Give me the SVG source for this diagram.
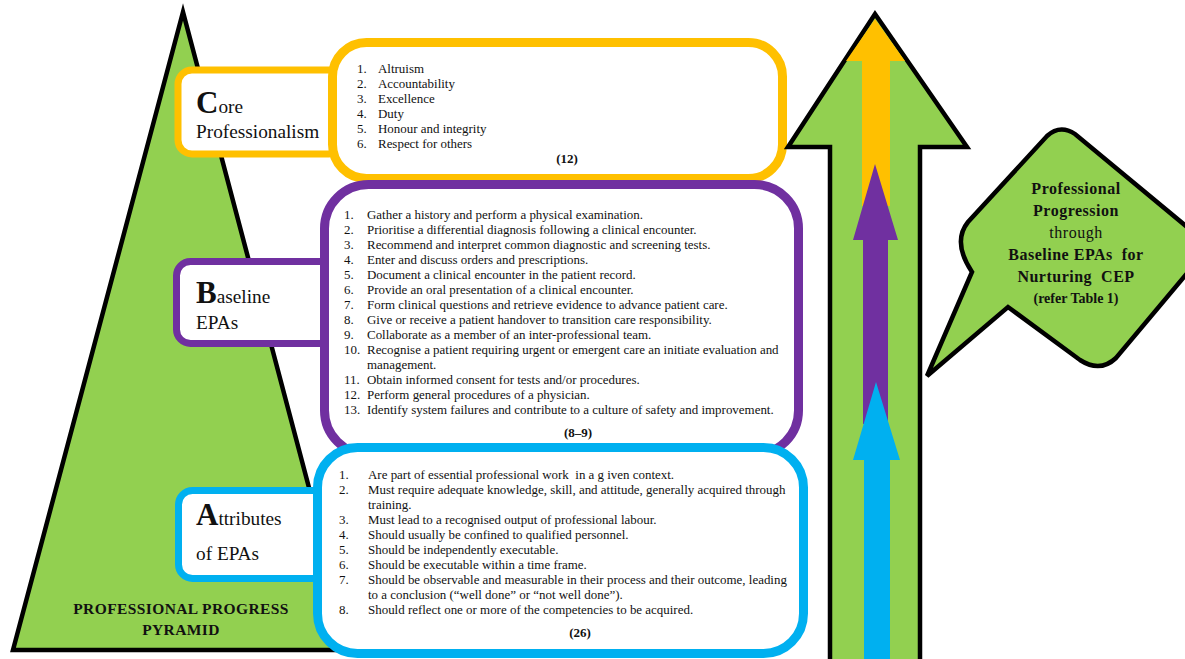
<svg xmlns="http://www.w3.org/2000/svg" width="1185" height="659" viewBox="0 0 1185 659">
<style>
text{fill:#111;}
.li{font-size:12.95px;white-space:pre;}
.ref{font-size:13px;font-weight:bold;text-anchor:middle;}
.big{font-size:31px;font-weight:bold;}
.lab{font-size:19.3px;}
.bub{font-size:16px;font-weight:bold;text-anchor:middle;letter-spacing:0.5px;}
.box{fill:#fff;}
.o{stroke:#FFC000;}
.p{stroke:#7030A0;}
.b{stroke:#00B0F0;}
.blk{stroke:#000;stroke-width:4.5;stroke-linejoin:miter;}
</style>
<rect width="1185" height="659" fill="#fff"/>
<g id="pyramid" font-family="'Liberation Serif', serif">
<polygon points="183,12 13,650 352,650" fill="#92D050" class="blk"/>
<text x="181" y="614" font-size="15.5" font-weight="bold" text-anchor="middle" letter-spacing="0.4">PROFESSIONAL PROGRESS</text>
<text x="181" y="635" font-size="15.5" font-weight="bold" text-anchor="middle" letter-spacing="0.4">PYRAMID</text>
</g>
<g id="core" font-family="'Liberation Serif', serif">
<rect x="178" y="70" width="165" height="84" rx="14" class="box o" stroke-width="7"/>
<rect x="332.5" y="42.5" width="450" height="136" rx="34" class="box o" stroke-width="9"/>
<text x="196" y="113"><tspan class="big">C</tspan><tspan class="lab">ore</tspan></text>
<text x="196" y="138" class="lab">Professionalism</text>
<text class="li" x="357" y="73">1.</text><text class="li" x="378" y="73">Altruism</text>
<text class="li" x="357" y="88">2.</text><text class="li" x="378" y="88">Accountability</text>
<text class="li" x="357" y="103">3.</text><text class="li" x="378" y="103">Excellence</text>
<text class="li" x="357" y="118">4.</text><text class="li" x="378" y="118">Duty</text>
<text class="li" x="357" y="133">5.</text><text class="li" x="378" y="133">Honour and integrity</text>
<text class="li" x="357" y="148">6.</text><text class="li" x="378" y="148">Respect for others</text>
<text class="ref" x="567" y="163">(12)</text>
</g>
<g id="baseline" font-family="'Liberation Serif', serif">
<rect x="176.5" y="261.5" width="160" height="82" rx="14" class="box p" stroke-width="7"/>
<rect x="324.5" y="184.5" width="474" height="270" rx="44" class="box p" stroke-width="9"/>
<text x="196" y="303"><tspan class="big">B</tspan><tspan class="lab">aseline</tspan></text>
<text x="196" y="329" class="lab">EPAs</text>
<text class="li" x="344" y="219">1.</text><text class="li" x="367" y="219">Gather a history and perform a physical examination.</text>
<text class="li" x="344" y="234">2.</text><text class="li" x="367" y="234">Prioritise a differential diagnosis following a clinical encounter.</text>
<text class="li" x="344" y="249">3.</text><text class="li" x="367" y="249">Recommend and interpret common diagnostic and screening tests.</text>
<text class="li" x="344" y="264">4.</text><text class="li" x="367" y="264">Enter and discuss orders and prescriptions.</text>
<text class="li" x="344" y="279">5.</text><text class="li" x="367" y="279">Document a clinical encounter in the patient record.</text>
<text class="li" x="344" y="294">6.</text><text class="li" x="367" y="294">Provide an oral presentation of a clinical encounter.</text>
<text class="li" x="344" y="309">7.</text><text class="li" x="367" y="309">Form clinical questions and retrieve evidence to advance patient care.</text>
<text class="li" x="344" y="324">8.</text><text class="li" x="367" y="324">Give or receive a patient handover to transition care responsibility.</text>
<text class="li" x="344" y="339">9.</text><text class="li" x="367" y="339">Collaborate as a member of an inter-professional team.</text>
<text class="li" x="344" y="354">10.</text><text class="li" x="367" y="354">Recognise a patient requiring urgent or emergent care an initiate evaluation and</text>
<text class="li" x="367" y="369">management.</text>
<text class="li" x="344" y="384">11.</text><text class="li" x="367" y="384">Obtain informed consent for tests and/or procedures.</text>
<text class="li" x="344" y="399">12.</text><text class="li" x="367" y="399">Perform general procedures of a physician.</text>
<text class="li" x="344" y="414">13.</text><text class="li" x="367" y="414">Identify system failures and contribute to a culture of safety and improvement.</text>
<text class="ref" x="578" y="437">(8–9)</text>
</g>
<g id="attributes" font-family="'Liberation Serif', serif">
<rect x="178.5" y="490.5" width="150" height="88" rx="14" class="box b" stroke-width="7"/>
<rect x="317.5" y="447.5" width="486" height="206" rx="40" class="box b" stroke-width="9"/>
<text x="196" y="525"><tspan class="big">A</tspan><tspan class="lab">ttributes</tspan></text>
<text x="196" y="560" class="lab">of EPAs</text>
<text class="li" x="339" y="479">1.</text><text class="li" x="368" y="479">Are part of essential professional work  in a g iven context.</text>
<text class="li" x="339" y="494">2.</text><text class="li" x="368" y="494">Must require adequate knowledge, skill, and attitude, generally acquired through</text>
<text class="li" x="368" y="509">training.</text>
<text class="li" x="339" y="524">3.</text><text class="li" x="368" y="524">Must lead to a recognised output of professional labour.</text>
<text class="li" x="339" y="539">4.</text><text class="li" x="368" y="539">Should usually be confined to qualified personnel.</text>
<text class="li" x="339" y="554">5.</text><text class="li" x="368" y="554">Should be independently executable.</text>
<text class="li" x="339" y="569">6.</text><text class="li" x="368" y="569">Should be executable within a time frame.</text>
<text class="li" x="339" y="584">7.</text><text class="li" x="368" y="584">Should be observable and measurable in their process and their outcome, leading</text>
<text class="li" x="368" y="599">to a conclusion (“well done” or “not well done”).</text>
<text class="li" x="339" y="614">8.</text><text class="li" x="368" y="614">Should reflect one or more of the competencies to be acquired.</text>
<text class="ref" x="580" y="637">(26)</text>
</g>
<g id="progression-arrow">
<polygon points="875,14 967,147 920,147 920,664 830,664 830,147 788,147" fill="#92D050" class="blk"/>
<polygon points="875,19 905,61 890,61 890,206 862,206 862,61 846,61" fill="#FFC000"/>
<polygon points="875,164 898,240 888,240 888,424 863,424 863,240 853,240" fill="#7030A0"/>
<polygon points="876,382 900,460 890,460 890,664 864,664 864,460 853,460" fill="#00B0F0"/>
</g>
<g id="callout" font-family="'Liberation Serif', serif">
<path d="M1075,134 Q1060,124 1047,136 L968,222 Q952,242 972,272 L927,376 L1008,307 L1080,360 Q1100,373 1116,358 L1210,246 Z" fill="#92D050" class="blk"/>
<text class="bub" x="1076" y="194">Professional</text>
<text class="bub" x="1076" y="216">Progression</text>
<text x="1076" y="238" font-size="16" text-anchor="middle" letter-spacing="0.5">through</text>
<text class="bub" x="1076" y="260" style="white-space:pre">Baseline EPAs  for</text>
<text class="bub" x="1076" y="282" style="white-space:pre">Nurturing  CEP</text>
<text x="1076" y="303" font-size="14" font-weight="bold" text-anchor="middle">(refer Table 1)</text>
</g>
<g id="connectors"></g>
</svg>
